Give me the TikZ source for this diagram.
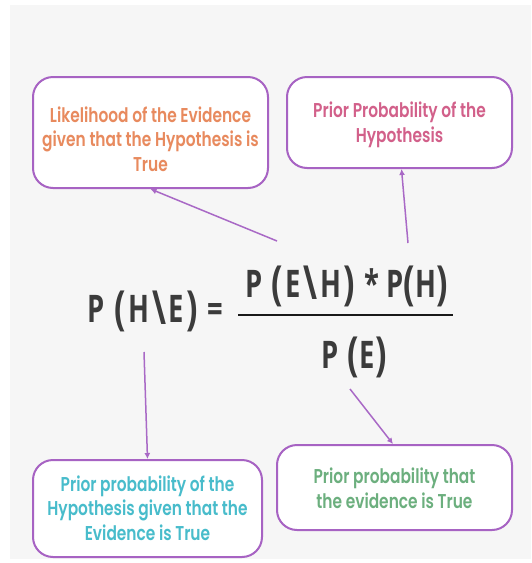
\documentclass[tikz,border=0pt]{standalone}
\usepackage{fontspec}
\setmainfont{Poppins}[UprightFont=* SemiBold, FakeStretch=0.77]
\newfontfamily\eqfont{Open Sans}[UprightFont=* Bold, FakeStretch=0.72]
\usetikzlibrary{arrows.meta}
\definecolor{bggray}{HTML}{F6F6F6}
\definecolor{boxpurple}{HTML}{A763C3}
\definecolor{arrpurple}{HTML}{A969C6}
\definecolor{txtorange}{HTML}{E88A5E}
\definecolor{txtpink}{HTML}{D2608A}
\definecolor{txtcyan}{HTML}{48BCCB}
\definecolor{txtgreen}{HTML}{6CAF7E}
\definecolor{eqgray}{HTML}{3B3B3B}
\newcommand\bigp[1]{{\fontsize{47}{47}\selectfont\raisebox{-2.5pt}{#1}}}
\newcommand\bigq[1]{\kern2.5pt\relax\bigp{#1}\kern2.5pt\relax}
\begin{document}
\begin{tikzpicture}[x=1pt,y=-1pt,
  box/.style={draw=boxpurple, line width=2pt, rounded corners=20pt, fill=white, inner sep=0pt},
  boxtext/.style={align=center, inner sep=0pt, font=\fontsize{20}{24.5}\selectfont},
  eq/.style={anchor=base, inner sep=0pt, text=eqgray, font=\eqfont\fontsize{38}{40}\selectfont},
  arr/.style={draw=arrpurple, line width=1.5pt, -{Latex[length=6pt,width=6pt]}}
]
\useasboundingbox (0,0) rectangle (531,563);
\fill[white] (0,0) rectangle (531,563);
\fill[bggray] (10,5) rectangle (531,559);

% boxes
\node[box, minimum width=235pt, minimum height=111pt] (b1) at (150.5,132.5) {};
\node[box, minimum width=225pt, minimum height=91pt] (b2) at (399.5,122.5) {};
\node[box, minimum width=229pt, minimum height=97pt] (b3) at (147.5,508.5) {};
\node[box, minimum width=235pt, minimum height=85pt] (b4) at (394.5,487.5) {};

% box texts
\node[boxtext, text=txtorange] (t1) at (150.5,139) {Likelihood of the Evidence\\given that the Hypothesis is\\True};
\node[boxtext, text=txtpink] (t2) at (399.5,125) {Prior Probability of the\\Hypothesis};
\node[boxtext, text=txtcyan] (t3) at (147.5,508) {Prior probability of the\\Hypothesis given that the\\Evidence is True};
\node[boxtext, text=txtgreen] (t4) at (394.5,488) {Prior probability that\\the evidence is True};

% formula
\node[eq] (lhs) at (155.5,322) {P \bigq{(}H\bigq{\textbackslash}E\bigq{)} =};
\node[eq] (num) at (346.5,297) {P \bigq{(}E\bigq{\textbackslash}H\bigq{)} * P\bigp{(}H\bigp{)}};
\node[eq] (den) at (354,368) {P \kern1.5pt\relax\bigp{(}\kern1.5pt\relax E\bigp{)}};
\coordinate (fl) at (238,315);
\coordinate (fr) at (453,315);
\draw[line width=2.6pt, black!90] (fl) -- (fr);

% connectors
\coordinate (c1) at (277,241);
\coordinate (c2) at (408,243);
\coordinate (c3) at (144,352);
\coordinate (c4) at (350,389);
\draw[arr] (c1) -- (b1.south);
\draw[arr] (c2) -- ([xshift=2pt]b2.south);
\draw[arr] (c3) -- (b3.north);
\draw[arr] (c4) -- ([xshift=-1.5pt]b4.north);
\end{tikzpicture}
\end{document}
